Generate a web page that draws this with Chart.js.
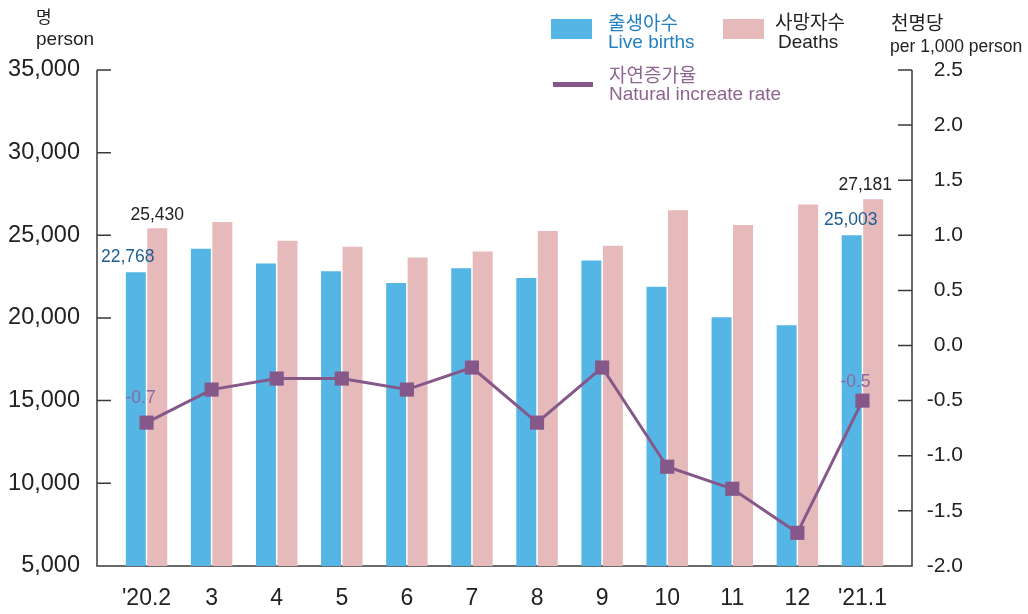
<!DOCTYPE html>
<html lang="ko">
<head>
<meta charset="utf-8">
<title>출생아수 · 사망자수 · 자연증가율</title>
<script src="https://cdn.jsdelivr.net/npm/chart.js@4.4.1/dist/chart.umd.min.js"></script>
<style>
  html, body { margin: 0; padding: 0; background: #fff; }
  #wrap { position: relative; width: 1028px; height: 614px; overflow: hidden; }
  #wrap canvas { position: absolute; left: 0; top: 0; }
  .t { position: absolute; white-space: nowrap; font-family: "Liberation Sans", Arial, sans-serif; font-size: 19px; line-height: 22px; color: #222; }
  .ko { font-family: "Noto Sans CJK KR", sans-serif; }
  .sw { position: absolute; }
</style>
</head>
<body>
<div id="wrap">
  <canvas id="chart" width="1028" height="614"></canvas>

  <!-- units -->
  <div class="t ko" style="left:36px; top:5px; font-size:17px;">명</div>
  <div class="t" style="left:36px; top:28px;">person</div>
  <div class="t ko" style="left:891px; top:11px;">천명당</div>
  <div class="t" style="left:890px; top:35px; font-size:17.5px;">per 1,000 person</div>

  <!-- legend -->
  <div class="sw" style="left:551px; top:19px; width:41px; height:20px; background:#55b6e6;"></div>
  <div class="t ko" style="left:608px; top:11px; color:#2580c3;">출생아수</div>
  <div class="t" style="left:608px; top:31px; color:#2580c3;">Live births</div>

  <div class="sw" style="left:723px; top:19px; width:41px; height:20px; background:#e6b9ba;"></div>
  <div class="t ko" style="left:775px; top:10px;">사망자수</div>
  <div class="t" style="left:778px; top:31px;">Deaths</div>

  <div class="sw" style="left:553px; top:82px; width:40px; height:5px; background:#86588a;"></div>
  <div class="t ko" style="left:609px; top:63px; color:#8e6590;">자연증가율</div>
  <div class="t" style="left:609px; top:83px; color:#8e6590;">Natural increate rate</div>
</div>

<script>
/* DATA */
var months = ["'20.2", "3", "4", "5", "6", "7", "8", "9", "10", "11", "12", "'21.1"];
var births = [22768, 24190, 23300, 22830, 22120, 23010, 22410, 23480, 21880, 20040, 19560, 25003];
var deaths = [25430, 25800, 24670, 24310, 23660, 24020, 25260, 24370, 26510, 25620, 26870, 27181];
var rate = [-0.7, -0.4, -0.3, -0.3, -0.4, -0.2, -0.7, -0.2, -1.1, -1.3, -1.7, -0.5];
var leftTicks = [5000, 10000, 15000, 20000, 25000, 30000, 35000];
var rightTicks = [-2.0, -1.5, -1.0, -0.5, 0.0, 0.5, 1.0, 1.5, 2.0, 2.5];
var labelled = [0, 11];

/* STYLE */
var font = '"Liberation Sans", Arial, sans-serif';
var AXIS_GAP = 17;
var TICK_LEN = 14;
var axisColor = "#3a3a3a";

/* AXIS FRAME (ticks point inward, axes sit outside the bar area) */
var axisFrame = {
    id: "axisFrame",
    beforeDatasetsDraw: function(chart) {
        var ctx = chart.ctx, a = chart.chartArea;
        var yL = chart.scales.y, yR = chart.scales.y1;
        var lx = a.left - AXIS_GAP, rx = a.right + AXIS_GAP;
        ctx.save();
        ctx.strokeStyle = axisColor;
        ctx.lineWidth = 1.5;
        ctx.beginPath();
        ctx.moveTo(lx, a.top);
        ctx.lineTo(lx, a.bottom);
        ctx.lineTo(rx, a.bottom);
        ctx.lineTo(rx, a.top);
        leftTicks.forEach(function(v) {
            var y = yL.getPixelForValue(v);
            ctx.moveTo(lx, y);
            ctx.lineTo(lx + TICK_LEN, y);
        });
        rightTicks.forEach(function(v) {
            var y = yR.getPixelForValue(v);
            ctx.moveTo(rx - TICK_LEN, y);
            ctx.lineTo(rx, y);
        });
        ctx.stroke();
        ctx.restore();
    }
};

/* VALUE LABELS on first and last month */
var labelShift = [
    { b: [-8, -15], d: [0, -13], r: [-6, -24] },
    { b: [-1, -15], d: [-8, -14], r: [-7, -18] }
];
var valueLabels = {
    id: "valueLabels",
    afterDatasetsDraw: function(chart) {
        var ctx = chart.ctx;
        var b = chart.getDatasetMeta(0).data;
        var d = chart.getDatasetMeta(1).data;
        var r = chart.getDatasetMeta(2).data;
        ctx.save();
        ctx.textAlign = "center";
        ctx.textBaseline = "middle";
        ctx.font = "17.5px " + font;
        labelled.forEach(function(i, k) {
            var s = labelShift[k];
            ctx.fillStyle = "#1d5d94";
            ctx.fillText(births[i].toLocaleString("en-US"), b[i].x + s.b[0], b[i].y + s.b[1]);
            ctx.fillStyle = "#222";
            ctx.fillText(deaths[i].toLocaleString("en-US"), d[i].x + s.d[0], d[i].y + s.d[1]);
            ctx.fillStyle = "#8a6a9e";
            ctx.fillText(rate[i].toFixed(1), r[i].x + s.r[0], r[i].y + s.r[1]);
        });
        ctx.restore();
    }
};

var ctx = document.getElementById("chart").getContext("2d");
var chart = new Chart(ctx, {
    data: {
        labels: months,
        datasets: [
            {
                type: "bar",
                label: "출생아수 Live births",
                data: births,
                backgroundColor: "#55b6e6",
                categoryPercentage: 0.66,
                barPercentage: 0.93,
                yAxisID: "y",
                order: 1
            },
            {
                type: "bar",
                label: "사망자수 Deaths",
                data: deaths,
                backgroundColor: "#e6b9ba",
                categoryPercentage: 0.66,
                barPercentage: 0.93,
                yAxisID: "y",
                order: 1
            },
            {
                type: "line",
                label: "자연증가율 Natural increate rate",
                data: rate,
                yAxisID: "y1",
                borderColor: "#86588a",
                borderWidth: 3,
                tension: 0,
                pointStyle: "rect",
                pointRadius: 10,
                pointBorderWidth: 0,
                pointBackgroundColor: "#86588a",
                order: 0
            }
        ]
    },
    options: {
        responsive: false,
        animation: false,
        layout: { padding: { top: 70, left: 0, right: 65, bottom: 0 } },
        plugins: {
            legend: { display: false },
            tooltip: { enabled: false }
        },
        scales: {
            x: {
                offset: true,
                grid: { display: false, drawTicks: false },
                border: { display: false },
                ticks: {
                    color: "#222",
                    font: { family: font, size: 23 },
                    padding: 19,
                    maxRotation: 0,
                    autoSkip: false
                },
                afterFit: function(s) { s.height = 42; }
            },
            y: {
                position: "left",
                min: 5000,
                max: 35000,
                grid: { display: false, drawTicks: false },
                border: { display: false },
                afterBuildTicks: function(s) {
                    s.ticks = leftTicks.map(function(v) { return { value: v }; });
                },
                ticks: {
                    color: "#222",
                    font: { family: font, size: 23.5 },
                    padding: 34,
                    callback: function(v) { return v.toLocaleString("en-US"); }
                },
                afterFit: function(s) { s.width = 114; }
            },
            y1: {
                position: "right",
                min: -2,
                max: 2.5,
                grid: { display: false, drawTicks: false },
                border: { display: false },
                afterBuildTicks: function(s) {
                    s.ticks = rightTicks.map(function(v) { return { value: v }; });
                },
                ticks: {
                    color: "#222",
                    crossAlign: "far",
                    font: { family: font, size: 21 },
                    padding: 32,
                    callback: function(v) { return Number(v).toFixed(1); }
                },
                afterFit: function(s) { s.width = 68; }
            }
        }
    },
    plugins: [axisFrame, valueLabels]
});
</script>
</body>
</html>
